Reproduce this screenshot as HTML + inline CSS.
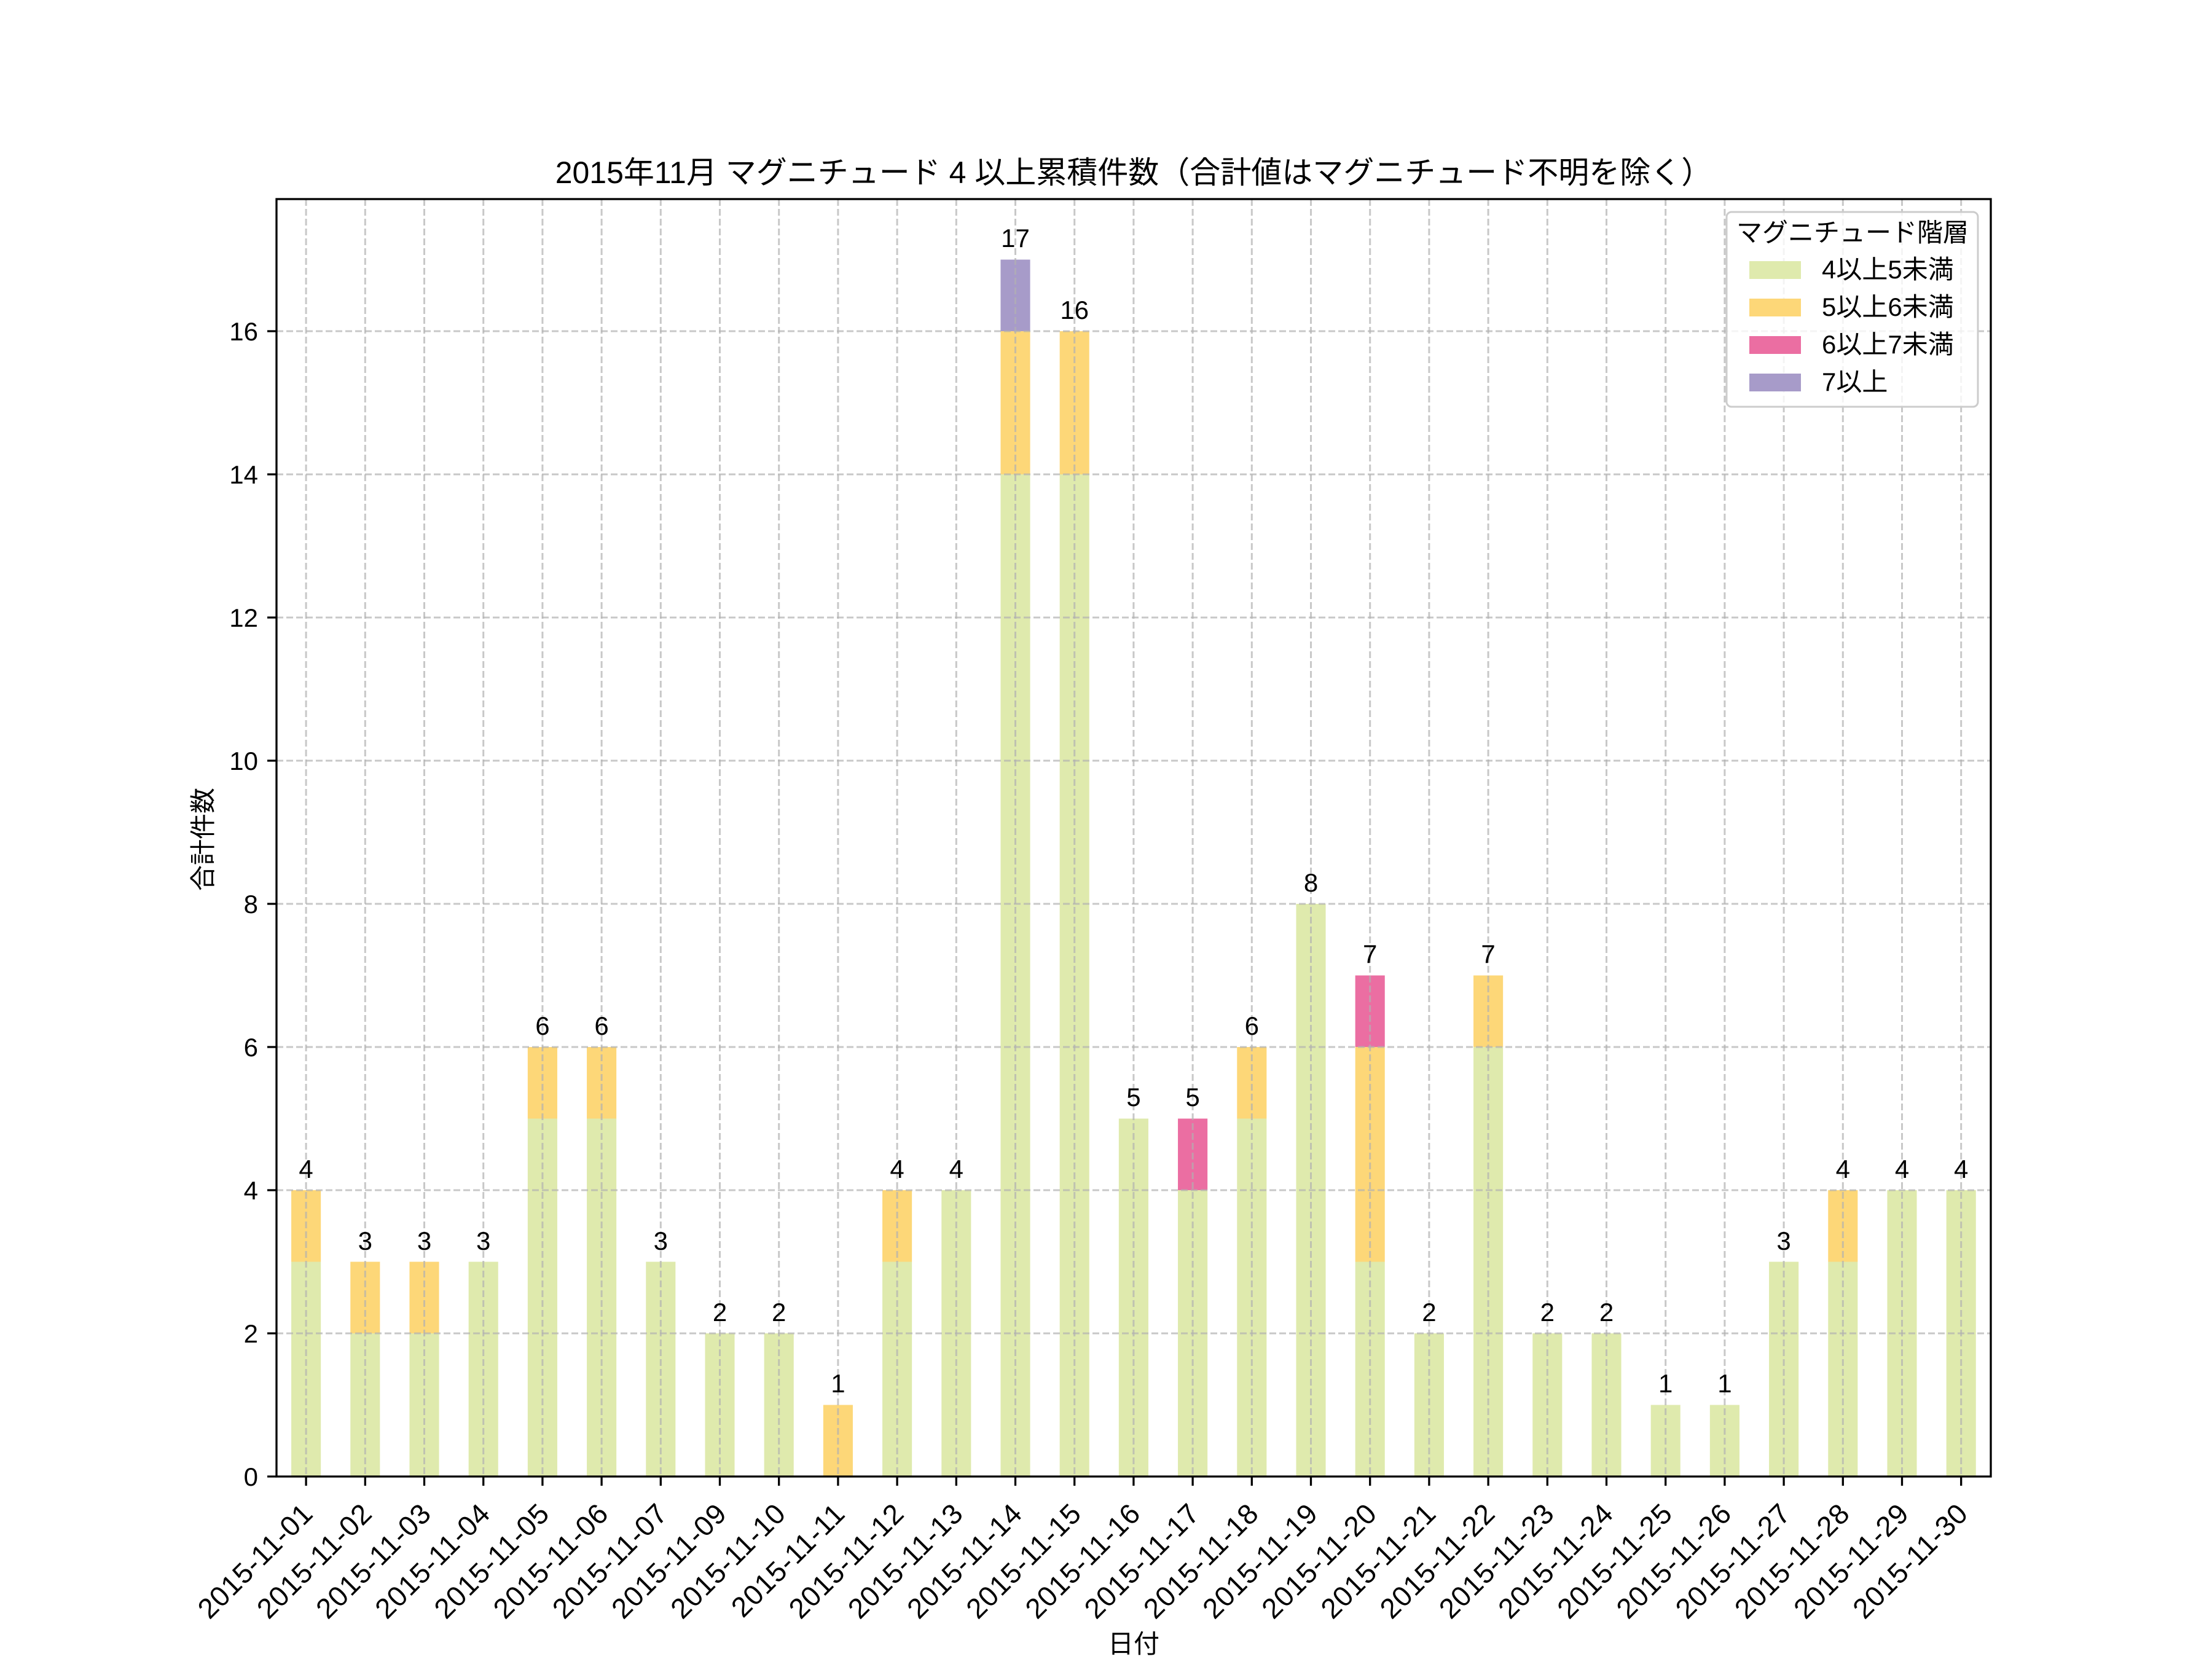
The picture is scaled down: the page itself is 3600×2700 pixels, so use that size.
<!DOCTYPE html>
<html><head><meta charset="utf-8"><style>
html,body{margin:0;padding:0;background:#fff}
svg{display:block}
text{font-family:"Liberation Sans","Noto Sans CJK JP",sans-serif;fill:#000}
</style></head><body>
<svg width="3600" height="2700" viewBox="0 0 3600 2700" xmlns="http://www.w3.org/2000/svg">
<rect width="3600" height="2700" fill="#fff"/>
<g transform="translate(450,2403) scale(96.2,-116.5)">
<g fill="#dfeaad">
<rect x="0.25" y="0" width="0.5" height="3"/>
<rect x="1.25" y="0" width="0.5" height="2"/>
<rect x="2.25" y="0" width="0.5" height="2"/>
<rect x="3.25" y="0" width="0.5" height="3"/>
<rect x="4.25" y="0" width="0.5" height="5"/>
<rect x="5.25" y="0" width="0.5" height="5"/>
<rect x="6.25" y="0" width="0.5" height="3"/>
<rect x="7.25" y="0" width="0.5" height="2"/>
<rect x="8.25" y="0" width="0.5" height="2"/>
<rect x="10.25" y="0" width="0.5" height="3"/>
<rect x="11.25" y="0" width="0.5" height="4"/>
<rect x="12.25" y="0" width="0.5" height="14"/>
<rect x="13.25" y="0" width="0.5" height="14"/>
<rect x="14.25" y="0" width="0.5" height="5"/>
<rect x="15.25" y="0" width="0.5" height="4"/>
<rect x="16.25" y="0" width="0.5" height="5"/>
<rect x="17.25" y="0" width="0.5" height="8"/>
<rect x="18.25" y="0" width="0.5" height="3"/>
<rect x="19.25" y="0" width="0.5" height="2"/>
<rect x="20.25" y="0" width="0.5" height="6"/>
<rect x="21.25" y="0" width="0.5" height="2"/>
<rect x="22.25" y="0" width="0.5" height="2"/>
<rect x="23.25" y="0" width="0.5" height="1"/>
<rect x="24.25" y="0" width="0.5" height="1"/>
<rect x="25.25" y="0" width="0.5" height="3"/>
<rect x="26.25" y="0" width="0.5" height="3"/>
<rect x="27.25" y="0" width="0.5" height="4"/>
<rect x="28.25" y="0" width="0.5" height="4"/>
</g>
<g fill="#fdd778">
<rect x="0.25" y="3" width="0.5" height="1"/>
<rect x="1.25" y="2" width="0.5" height="1"/>
<rect x="2.25" y="2" width="0.5" height="1"/>
<rect x="4.25" y="5" width="0.5" height="1"/>
<rect x="5.25" y="5" width="0.5" height="1"/>
<rect x="9.25" y="0" width="0.5" height="1"/>
<rect x="10.25" y="3" width="0.5" height="1"/>
<rect x="12.25" y="14" width="0.5" height="2"/>
<rect x="13.25" y="14" width="0.5" height="2"/>
<rect x="16.25" y="5" width="0.5" height="1"/>
<rect x="18.25" y="3" width="0.5" height="3"/>
<rect x="20.25" y="6" width="0.5" height="1"/>
<rect x="26.25" y="3" width="0.5" height="1"/>
</g>
<g fill="#eb6ea2">
<rect x="15.25" y="4" width="0.5" height="1"/>
<rect x="18.25" y="6" width="0.5" height="1"/>
</g>
<g fill="#a79bc9">
<rect x="12.25" y="16" width="0.5" height="1"/>
</g>
</g>
<g stroke="#b0b0b0" stroke-opacity="0.7" stroke-width="3" stroke-dasharray="11,5" fill="none">
<path d="M450 2170H3240M450 1937H3240M450 1704H3240M450 1471H3240M450 1238H3240M450 1005H3240M450 772H3240M450 539H3240"/>
<path d="M498.1 324V2403M594.3 324V2403M690.5 324V2403M786.7 324V2403M882.9 324V2403M979.1 324V2403M1075.3 324V2403M1171.5 324V2403M1267.7 324V2403M1363.9 324V2403M1460.1 324V2403M1556.3 324V2403M1652.5 324V2403M1748.7 324V2403M1844.9 324V2403M1941.1 324V2403M2037.3 324V2403M2133.5 324V2403M2229.7 324V2403M2325.9 324V2403M2422.1 324V2403M2518.3 324V2403M2614.5 324V2403M2710.7 324V2403M2806.9 324V2403M2903.1 324V2403M2999.3 324V2403M3095.5 324V2403M3191.7 324V2403"/>
</g>
<rect x="450" y="324" width="2790" height="2079" fill="none" stroke="#000" stroke-width="3.3"/>
<g stroke="#000" stroke-width="3.3">
<path d="M435 2403H450M435 2170H450M435 1937H450M435 1704H450M435 1471H450M435 1238H450M435 1005H450M435 772H450M435 539H450"/>
<path d="M498.1 2403v15M594.3 2403v15M690.5 2403v15M786.7 2403v15M882.9 2403v15M979.1 2403v15M1075.3 2403v15M1171.5 2403v15M1267.7 2403v15M1363.9 2403v15M1460.1 2403v15M1556.3 2403v15M1652.5 2403v15M1748.7 2403v15M1844.9 2403v15M1941.1 2403v15M2037.3 2403v15M2133.5 2403v15M2229.7 2403v15M2325.9 2403v15M2422.1 2403v15M2518.3 2403v15M2614.5 2403v15M2710.7 2403v15M2806.9 2403v15M2903.1 2403v15M2999.3 2403v15M3095.5 2403v15M3191.7 2403v15"/>
</g>
<g font-size="42" text-anchor="end">
<text x="420" y="2418">0</text>
<text x="420" y="2185">2</text>
<text x="420" y="1952">4</text>
<text x="420" y="1719">6</text>
<text x="420" y="1486">8</text>
<text x="420" y="1253">10</text>
<text x="420" y="1020">12</text>
<text x="420" y="787">14</text>
<text x="420" y="554">16</text>
</g>
<g font-size="46" text-anchor="end" letter-spacing="1">
<text transform="translate(512,2466) rotate(-45)">2015-11-01</text>
<text transform="translate(608.3,2466) rotate(-45)">2015-11-02</text>
<text transform="translate(704.5,2466) rotate(-45)">2015-11-03</text>
<text transform="translate(800.7,2466) rotate(-45)">2015-11-04</text>
<text transform="translate(896.9,2466) rotate(-45)">2015-11-05</text>
<text transform="translate(993.1,2466) rotate(-45)">2015-11-06</text>
<text transform="translate(1089.3,2466) rotate(-45)">2015-11-07</text>
<text transform="translate(1185.5,2466) rotate(-45)">2015-11-09</text>
<text transform="translate(1281.7,2466) rotate(-45)">2015-11-10</text>
<text transform="translate(1377.9,2466) rotate(-45)">2015-11-11</text>
<text transform="translate(1474.1,2466) rotate(-45)">2015-11-12</text>
<text transform="translate(1570.3,2466) rotate(-45)">2015-11-13</text>
<text transform="translate(1666.5,2466) rotate(-45)">2015-11-14</text>
<text transform="translate(1762.7,2466) rotate(-45)">2015-11-15</text>
<text transform="translate(1858.9,2466) rotate(-45)">2015-11-16</text>
<text transform="translate(1955.1,2466) rotate(-45)">2015-11-17</text>
<text transform="translate(2051.3,2466) rotate(-45)">2015-11-18</text>
<text transform="translate(2147.5,2466) rotate(-45)">2015-11-19</text>
<text transform="translate(2243.7,2466) rotate(-45)">2015-11-20</text>
<text transform="translate(2339.9,2466) rotate(-45)">2015-11-21</text>
<text transform="translate(2436.1,2466) rotate(-45)">2015-11-22</text>
<text transform="translate(2532.3,2466) rotate(-45)">2015-11-23</text>
<text transform="translate(2628.5,2466) rotate(-45)">2015-11-24</text>
<text transform="translate(2724.7,2466) rotate(-45)">2015-11-25</text>
<text transform="translate(2820.9,2466) rotate(-45)">2015-11-26</text>
<text transform="translate(2917.1,2466) rotate(-45)">2015-11-27</text>
<text transform="translate(3013.3,2466) rotate(-45)">2015-11-28</text>
<text transform="translate(3109.5,2466) rotate(-45)">2015-11-29</text>
<text transform="translate(3205.7,2466) rotate(-45)">2015-11-30</text>
</g>
<g font-size="42" text-anchor="middle">
<text x="498.1" y="1917">4</text>
<text x="594.3" y="2034">3</text>
<text x="690.5" y="2034">3</text>
<text x="786.7" y="2034">3</text>
<text x="882.9" y="1684">6</text>
<text x="979.1" y="1684">6</text>
<text x="1075.3" y="2034">3</text>
<text x="1171.5" y="2150">2</text>
<text x="1267.7" y="2150">2</text>
<text x="1363.9" y="2266">1</text>
<text x="1460.1" y="1917">4</text>
<text x="1556.3" y="1917">4</text>
<text x="1652.5" y="402">17</text>
<text x="1748.7" y="519">16</text>
<text x="1844.9" y="1800">5</text>
<text x="1941.1" y="1800">5</text>
<text x="2037.3" y="1684">6</text>
<text x="2133.5" y="1451">8</text>
<text x="2229.7" y="1567">7</text>
<text x="2325.9" y="2150">2</text>
<text x="2422.1" y="1567">7</text>
<text x="2518.3" y="2150">2</text>
<text x="2614.5" y="2150">2</text>
<text x="2710.7" y="2266">1</text>
<text x="2806.9" y="2266">1</text>
<text x="2903.1" y="2034">3</text>
<text x="2999.3" y="1917">4</text>
<text x="3095.5" y="1917">4</text>
<text x="3191.7" y="1917">4</text>
</g>
<rect x="2810" y="345" width="409" height="317" rx="8" fill="#fff" fill-opacity="0.8" stroke="#cccccc" stroke-width="3"/>
<text x="3015" y="393" font-size="42" text-anchor="middle">マグニチュード階層</text>
<rect x="2847" y="425" width="84" height="29" fill="#dfeaad"/>
<rect x="2847" y="486" width="84" height="29" fill="#fdd778"/>
<rect x="2847" y="547" width="84" height="29" fill="#eb6ea2"/>
<rect x="2847" y="608" width="84" height="29" fill="#a79bc9"/>
<g font-size="42">
<text x="2965" y="453">4以上5未満</text>
<text x="2965" y="514">5以上6未満</text>
<text x="2965" y="575">6以上7未満</text>
<text x="2965" y="636">7以上</text>
</g>
<text x="1845" y="298" font-size="50" text-anchor="middle">2015年11月 マグニチュード 4 以上累積件数（合計値はマグニチュード不明を除く）</text>
<text x="1845" y="2690" font-size="42" text-anchor="middle">日付</text>
<text transform="translate(345,1366) rotate(-90)" font-size="42" text-anchor="middle">合計件数</text>
</svg>
</body></html>
